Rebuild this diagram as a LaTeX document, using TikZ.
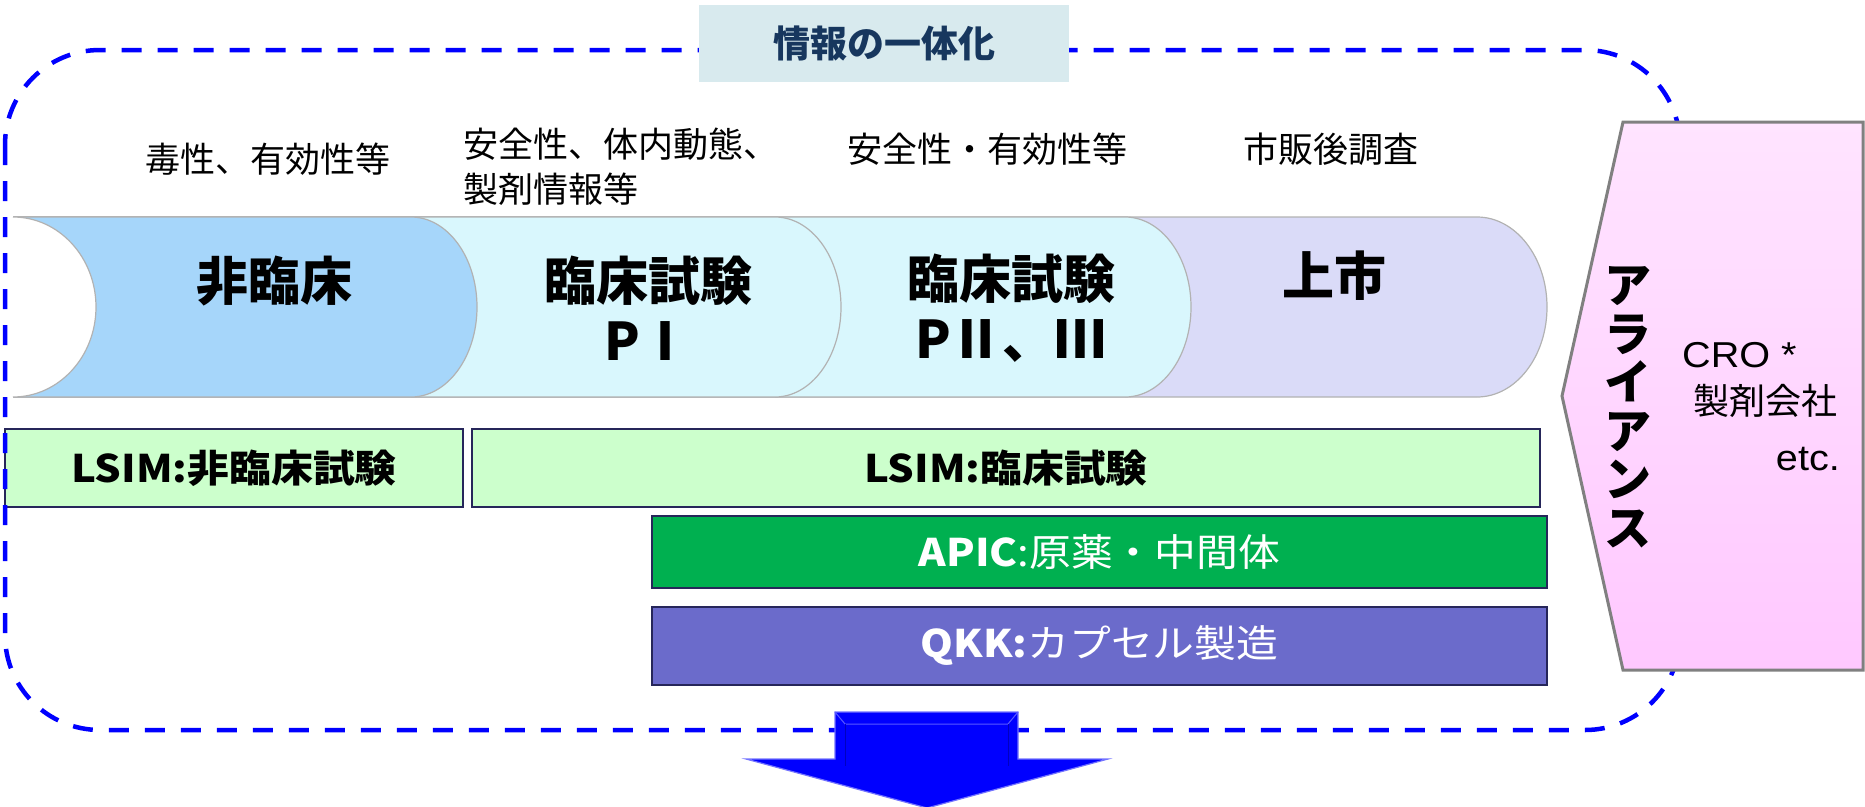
\documentclass[tikz,border=0pt]{standalone}
\usepackage{fontspec}
\setmainfont{Noto Sans CJK JP}
\newfontfamily\jpfont{Noto Sans CJK JP}
\newfontfamily\rowfont{Noto Sans CJK JP}[FakeStretch=1.1]
\newfontfamily\latfont{Liberation Sans}[FakeStretch=1.1]
\definecolor{segA}{RGB}{166,214,250}
\definecolor{segB}{RGB}{217,247,253}
\definecolor{segD}{RGB}{218,219,248}
\definecolor{titlebg}{RGB}{216,234,238}
\definecolor{titlefg}{RGB}{23,55,94}
\definecolor{lsimgreen}{RGB}{204,255,204}
\definecolor{apicgreen}{RGB}{0,176,80}
\definecolor{qkkblue}{RGB}{107,107,203}
\definecolor{boxline}{RGB}{38,38,90}
\definecolor{pinktop}{RGB}{255,228,255}
\definecolor{pinkbot}{RGB}{255,200,255}
\definecolor{dashblue}{RGB}{0,0,255}
\tikzset{
  labeltxt/.style={font=\jpfont\fontsize{35}{45}\selectfont, inner sep=0pt},
  bandtxt/.style={font=\jpfont\bfseries\fontsize{52}{60}\selectfont, align=center, inner sep=0pt},
  rowbox/.style={draw=boxline, line width=2pt, inner sep=0pt, font=\rowfont\fontsize{38}{44}\selectfont},
  segline/.style={draw=black!30, line width=1.2pt},
}
\newcommand{\bandseg}[3]{%
  \path[fill=#1, segline] (13,217) -- (#2,217)
    .. controls ({#2+0.5523*#3},217) and ({#2+#3},257.3) .. ({#2+#3},307)
    .. controls ({#2+#3},356.7) and ({#2+0.5523*#3},397) .. (#2,397)
    -- (13,397) -- cycle;}
\begin{document}
\begin{tikzpicture}[x=1pt,y=-1pt]
\useasboundingbox (0,0) rectangle (1865,806);
% pipeline band
\bandseg{segD}{1477}{70}
\bandseg{segB}{1125}{66}
\bandseg{segB}{775}{66}
\bandseg{segA}{411}{66}
\fill[white] (6,214) -- (13,214) -- (13,217)
    .. controls ({13+0.5523*83},217) and (96,257.3) .. (96,307)
    .. controls (96,356.7) and ({13+0.5523*83},397) .. (13,397)
    -- (13,400) -- (6,400) -- cycle;
\draw[black!30, line width=1.2pt] (13,217)
    .. controls ({13+0.5523*83},217) and (96,257.3) .. (96,307)
    .. controls (96,356.7) and ({13+0.5523*83},397) .. (13,397);
\node[bandtxt] (s1) at (274,281) {非臨床};
\node[bandtxt] (s2) at (648,308) {臨床試験\\PⅠ};
\node[bandtxt] (s3) at (1011,308) {臨床試験\\PⅡ、Ⅲ};
\node[bandtxt] (s4) at (1334,276) {上市};
% top labels
\node[labeltxt] (l1) at (268,159) {毒性、有効性等};
\node[labeltxt, align=left, anchor=west] (l2) at (463,167) {安全性、体内動態、\\製剤情報等};
\node[labeltxt] (l3) at (987,149) {安全性・有効性等};
\node[labeltxt] (l4) at (1331,149) {市販後調査};
% rows
\node[rowbox, fill=lsimgreen, minimum width=458, minimum height=78] (r1) at (234,468) {\bfseries LSIM:非臨床試験};
\node[rowbox, fill=lsimgreen, minimum width=1068, minimum height=78] (r2) at (1006,468) {\bfseries LSIM:臨床試験};
\node[rowbox, fill=apicgreen, text=white, minimum width=895, minimum height=72] (r3) at (1099.5,552) {{\bfseries APIC}:原薬・中間体};
\node[rowbox, fill=qkkblue, text=white, minimum width=895, minimum height=78] (r4) at (1099.5,646) {{\bfseries QKK:}カプセル製造};
% dashed frame
\draw[dashblue, line width=4.5pt, dash pattern=on 20pt off 16pt, rounded corners=95pt] (5,50) rectangle (1680,730);
% title
\node[fill=titlebg, minimum width=370, minimum height=77, inner sep=0pt, text=titlefg,
      font=\jpfont\bfseries\fontsize{37}{40}\selectfont] (title) at (884,43.5) {情報の一体化};
% alliance pentagon
\path[draw=black!50, line width=3pt, top color=pinktop, bottom color=pinkbot]
  (1623,122) -- (1863,122) -- (1863,670) -- (1623,670) -- (1562,396) -- cycle;
\node[font=\jpfont\bfseries\fontsize{47}{48.5}\selectfont, align=center, inner sep=0pt] (alliance) at (1628,407) {ア\\ラ\\イ\\ア\\ン\\ス};
\node[anchor=base west, font=\latfont\fontsize{36}{40}\selectfont, inner sep=0pt] (cro) at (1682,367) {CRO *};
\node[font=\jpfont\fontsize{36}{40}\selectfont, inner sep=0pt] (seizai) at (1765,401) {製剤会社};
\node[anchor=base east, font=\latfont\fontsize{36}{40}\selectfont, inner sep=0pt] (etc) at (1840,470) {etc.};
% down arrow
\path[fill=dashblue, draw=blue!55!white, line width=1.2pt]
  (835,712) -- (1018,712) -- (1018,759) -- (1108,759) -- (927,808) -- (746,759) -- (835,759) -- cycle;
\draw[blue!65!white, line width=1pt] (835,712) -- (845,724) -- (1008,724) -- (1018,712);
\draw[blue!75!black, line width=1pt] (845,724) -- (845,766) (1008,724) -- (1008,766);
\end{tikzpicture}
\end{document}
